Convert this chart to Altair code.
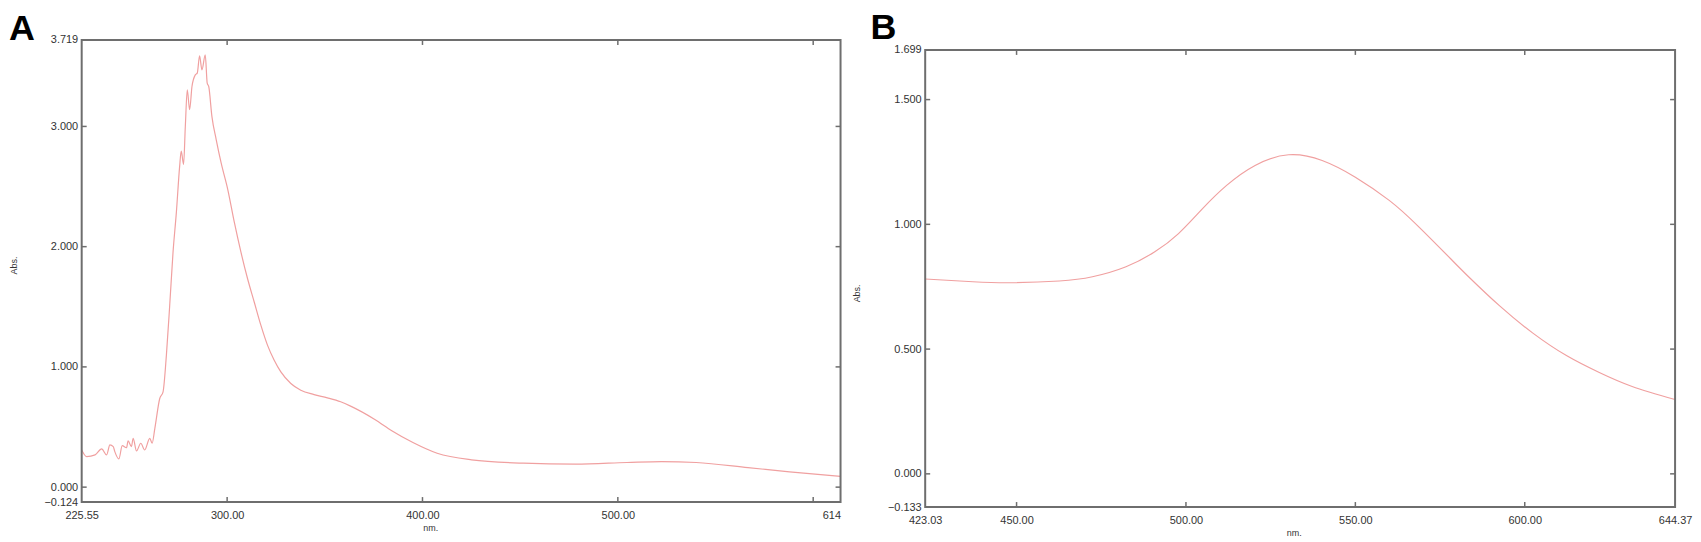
import altair as alt
import pandas as pd

# ---------------- Panel A data ----------------
wl_a = [225.55, 228.1, 232.4, 235.8, 238.3, 240.0, 241.7, 242.5, 244.6, 246.3,
        248.5, 249.3, 251.0, 251.9, 253.6, 255.8, 257.8, 260.4, 261.6, 263.0,
        265.5, 267.2, 268.9, 270.6, 272.3, 274.0, 275.7, 276.5, 277.7, 278.6,
        279.6, 280.8, 282.0, 283.7, 284.7, 285.9, 287.1, 288.8, 289.8, 290.6,
        292.2, 294.4, 296.9, 300.3, 303.7, 307.1, 310.5, 313.9, 317.3, 320.7,
        324.1, 327.5, 332.6, 337.7, 344.5, 351.3, 358.1, 363.2, 375.6, 384.5,
        395.1, 407.5, 425.1, 451.6, 478.2, 504.7, 522.4, 540.1, 566.6, 587.9,
        614.0]
abs_a = [0.309, 0.254, 0.268, 0.318, 0.268, 0.351, 0.337, 0.295, 0.235, 0.345,
         0.328, 0.384, 0.337, 0.406, 0.301, 0.365, 0.309, 0.406, 0.365, 0.489,
         0.737, 0.793, 1.096, 1.510, 1.952, 2.283, 2.670, 2.794, 2.684, 3.001,
         3.305, 3.139, 3.332, 3.429, 3.443, 3.586, 3.471, 3.595, 3.360, 3.330,
         3.084, 2.891, 2.698, 2.477, 2.201, 1.952, 1.731, 1.538, 1.345, 1.179,
         1.055, 0.958, 0.862, 0.806, 0.770, 0.743, 0.710, 0.674, 0.563, 0.467,
         0.371, 0.282, 0.227, 0.199, 0.191, 0.205, 0.213, 0.205, 0.163, 0.127,
         0.090]

# ---------------- Panel B data ----------------
wl_b = [423.03, 437.1, 448.4, 462.6, 472.4, 482.3, 490.8, 497.8, 504.9, 512.0,
        520.4, 530.3, 540.2, 550.0, 560.0, 568.5, 578.2, 583.8, 592.6, 602.3,
        612.3, 622.0, 631.7, 644.37]
abs_b = [0.781, 0.770, 0.766, 0.773, 0.790, 0.830, 0.890, 0.963, 1.063, 1.156,
         1.236, 1.279, 1.256, 1.189, 1.096, 0.993, 0.861, 0.785, 0.673, 0.565,
         0.474, 0.406, 0.350, 0.298]

# ---------------- Axis definitions ----------------
xdom_a = [225.55, 614.0]
ydom_a = [-0.124, 3.719]
xlab_a = [225.55, 300.0, 400.0, 500.0, 614.0]
ylab_a = [-0.124, 0.0, 1.0, 2.0, 3.0, 3.719]
xtick_a = [300.0, 400.0, 500.0, 600.0]
ytick_a = [0.0, 1.0, 2.0, 3.0]

xdom_b = [423.03, 644.37]
ydom_b = [-0.133, 1.699]
xlab_b = [423.03, 450.0, 500.0, 550.0, 600.0, 644.37]
ylab_b = [-0.133, 0.0, 0.5, 1.0, 1.5, 1.699]
xtick_b = [450.0, 500.0, 550.0, 600.0]
ytick_b = [0.0, 0.5, 1.0, 1.5]

GRAY = "#6e6e6e"
TXT = "#333333"
PINK = "#f0a0a0"
FONT = "Liberation Sans"
TICK = 5


def panel(letter, wl, ab, xdom, ydom, xlab, ylab, xtick, ytick, w, h, top_px,
          xlabel_expr, xalign, ytitle_pad, title_offset, title_dx, interp,
          xtitle_x, ytitle_y):
    # extend the y scale upward so the framed area starts top_px below the view top
    span = (ydom[1] - ydom[0]) / (h - top_px)
    ys = alt.Scale(domain=[ydom[0], ydom[1] + span * top_px], nice=False, zero=False)
    xs = alt.Scale(domain=xdom, nice=False, zero=False)

    xaxis = alt.Axis(
        values=xlab, labelExpr=xlabel_expr, title="nm.", ticks=False, domain=False,
        grid=False, labelFlush=False, labelOverlap=False, labelFontSize=11,
        labelFont=FONT, labelColor=TXT, labelPadding=8, labelAlign=xalign,
        titleFontSize=9, titleFont=FONT, titleFontWeight="normal",
        titleColor=TXT, titlePadding=3, titleX=xtitle_x)
    yaxis = alt.Axis(
        values=ylab, format=".3f", title="Abs.", ticks=False, domain=False,
        grid=False, labelOverlap=False, labelFontSize=11, labelFont=FONT,
        labelColor=TXT, labelPadding=4, labelBaseline="middle",
        titleFontSize=9, titleFont=FONT, titleFontWeight="normal",
        titleColor=TXT, titlePadding=ytitle_pad, titleY=ytitle_y)

    df = pd.DataFrame({"nm": wl, "Abs": ab})
    line = alt.Chart(df).mark_line(color=PINK, strokeWidth=1.2, interpolate=interp).encode(
        x=alt.X("nm:Q", scale=xs, axis=xaxis, title="nm."),
        y=alt.Y("Abs:Q", scale=ys, axis=yaxis, title="Abs."),
    )

    fdf = pd.DataFrame({"nm": [xdom[0]], "nm2": [xdom[1]], "Abs": [ydom[0]], "Abs2": [ydom[1]]})
    frame = alt.Chart(fdf).mark_rect(filled=False, stroke=GRAY, strokeWidth=2).encode(
        x=alt.X("nm:Q", scale=xs, axis=xaxis, title="nm."), x2="nm2:Q",
        y=alt.Y("Abs:Q", scale=ys, axis=yaxis, title="Abs."), y2="Abs2:Q",
    )

    xt = pd.DataFrame({"nm": xtick})
    yt = pd.DataFrame({"Abs": ytick})
    tick_top = alt.Chart(xt).mark_rule(color=GRAY, strokeWidth=1.5).encode(
        x=alt.X("nm:Q", scale=xs, axis=xaxis, title="nm."),
        y=alt.value(top_px), y2=alt.value(top_px + TICK))
    tick_bot = alt.Chart(xt).mark_rule(color=GRAY, strokeWidth=1.5).encode(
        x=alt.X("nm:Q", scale=xs, axis=xaxis, title="nm."),
        y=alt.value(h - TICK), y2=alt.value(h))
    tick_left = alt.Chart(yt).mark_rule(color=GRAY, strokeWidth=1.5).encode(
        y=alt.Y("Abs:Q", scale=ys, axis=yaxis, title="Abs."),
        x=alt.value(0), x2=alt.value(TICK))
    tick_right = alt.Chart(yt).mark_rule(color=GRAY, strokeWidth=1.5).encode(
        y=alt.Y("Abs:Q", scale=ys, axis=yaxis, title="Abs."),
        x=alt.value(w - TICK), x2=alt.value(w))

    return alt.layer(line, frame, tick_top, tick_bot, tick_left, tick_right).properties(
        width=w, height=h,
        title=alt.TitleParams(text=letter, fontSize=36, fontWeight="bold", font=FONT,
                              color="black", anchor="start", frame="bounds",
                              offset=title_offset, dx=title_dx, baseline="top"),
    )


chart_a = panel("A", wl_a, abs_a, xdom_a, ydom_a, xlab_a, ylab_a, xtick_a, ytick_a,
                762, 464, 0,
                "datum.value == 614 ? '614' : format(datum.value, '.2f')",
                {"condition": {"test": "datum.value > 610", "value": "right"}, "value": "center"},
                26, -14, 0, "monotone", 350, 226)
chart_b = panel("B", wl_b, abs_b, xdom_b, ydom_b, xlab_b, ylab_b, xtick_b, ytick_b,
                753, 469, 10,
                "format(datum.value, '.2f')", "center",
                26, -7, 18, "natural", 370, 254)

chart = alt.hconcat(chart_a, chart_b, spacing=8).configure_view(
    stroke="transparent"
).properties(padding={"top": 0, "left": 0, "right": 0, "bottom": 0},
             background="white")

chart.save("out.html", embed_options={"renderer": "svg", "actions": False})
